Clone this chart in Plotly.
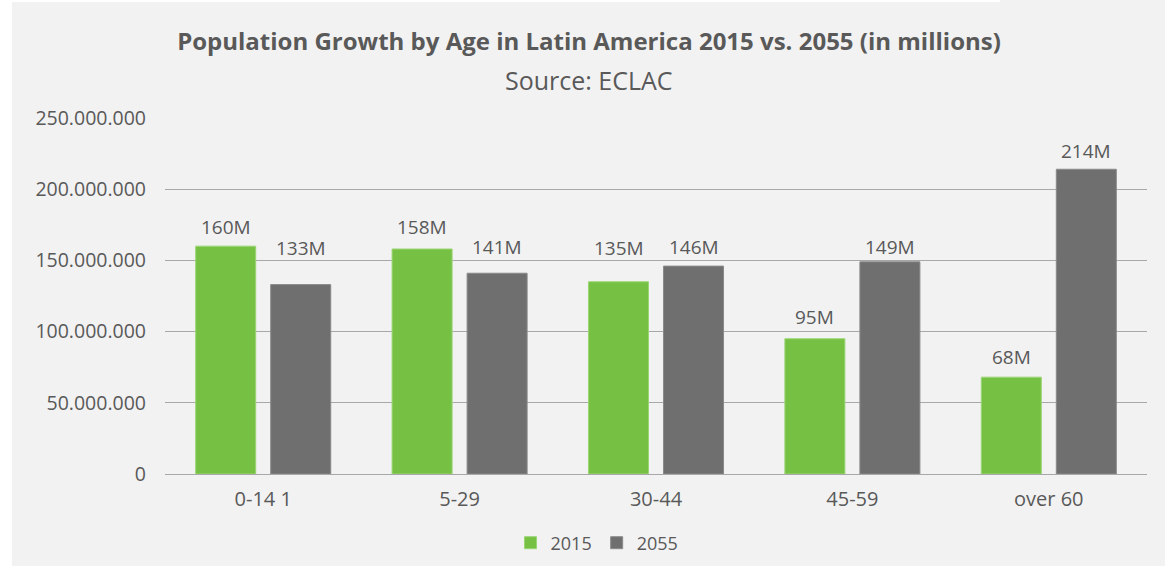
import plotly.graph_objects as go

# Population by age group, Latin America (millions)
categories = ["0-14 1", "5-29", "30-44", "45-59", "over 60"]
pop_2015 = [160, 158, 135, 95, 68]
pop_2055 = [133, 141, 146, 149, 214]
y_ticks = [0, 50_000_000, 100_000_000, 150_000_000, 200_000_000, 250_000_000]
y_tick_labels = ["0", "50.000.000", "100.000.000", "150.000.000", "200.000.000", "250.000.000"]

# vertical lift (px) of each value label above its bar, so labels clear the gridlines
lift_2015 = [19, 22, 34, 22, 20]
lift_2055 = [37, 26, 19, 14.5, 18.5]

FONT = "Open Sans, Lato, sans-serif"
TEXT = "#595959"
GREEN = "#76c043"
GRAY = "#6f6f6f"

W, H = 1165, 566
L, R, T, B = 165, 18, 118, 92
PW, PH = W - L - R, H - T - B
BAR_OFFSET = 37.5  # px from category centre to each bar centre


def series(name, values, color, edge):
    return go.Bar(
        name=name,
        x=categories,
        y=[v * 1_000_000 for v in values],
        marker=dict(color=color, line=dict(color=edge, width=1)),
        hoverinfo="skip",
    )


def value_labels(values, lifts, xshift):
    return [
        dict(
            x=cat, y=v * 1_000_000, xref="x", yref="y",
            text=f"{v}M", showarrow=False,
            xanchor="center", yanchor="middle",
            xshift=xshift, yshift=lift,
            font=dict(family=FONT, size=19, color=TEXT),
        )
        for cat, v, lift in zip(categories, values, lifts)
    ]


fig = go.Figure([
    series("2015", pop_2015, GREEN, "#9bd675"),
    series("2055", pop_2055, GRAY, "#8a8a8a"),
])

annotations = [dict(
    text="Source: ECLAC",
    xref="paper", yref="paper",
    x=(589 - L) / PW, y=(H - B - 80) / PH,
    xanchor="center", yanchor="middle",
    showarrow=False,
    font=dict(family=FONT, size=25, color=TEXT),
)]
annotations += value_labels(pop_2015, lift_2015, -BAR_OFFSET)
annotations += value_labels(pop_2055, lift_2055, BAR_OFFSET)

fig.update_layout(
    width=W,
    height=H,
    margin=dict(l=L, r=R, t=T, b=B, autoexpand=False),
    paper_bgcolor="#f2f2f2",
    plot_bgcolor="#f2f2f2",
    barmode="group",
    bargap=0.236,
    bargroupgap=0.2,
    font=dict(family=FONT, color=TEXT),
    title=dict(
        text="<b>Population Growth by Age in Latin America 2015 vs. 2055 (in millions)</b>",
        x=589 / W, xref="container", xanchor="center",
        y=1 - 42 / H, yref="container", yanchor="middle",
        font=dict(family=FONT, size=24, color=TEXT),
    ),
    annotations=annotations,
    shapes=[
        # white strips around the chart panel
        dict(type="rect", xref="paper", yref="paper", layer="below",
             x0=-L / PW, x1=(12 - L) / PW, y0=-B / PH, y1=(H - B) / PH,
             fillcolor="white", line=dict(width=0)),
        dict(type="rect", xref="paper", yref="paper", layer="below",
             x0=-L / PW, x1=(1000 - L) / PW, y0=(H - B - 2) / PH, y1=(H - B) / PH,
             fillcolor="white", line=dict(width=0)),
    ],
    legend=dict(
        orientation="h",
        x=597 / W, xref="container", xanchor="center",
        y=(H - 543) / H, yref="container", yanchor="middle",
        font=dict(family=FONT, size=18, color=TEXT),
        bgcolor="rgba(0,0,0,0)",
        itemwidth=30,
    ),
    showlegend=True,
)

fig.update_yaxes(
    range=[0, 250_000_000],
    tickvals=y_ticks,
    ticktext=y_tick_labels,
    tickfont=dict(family=FONT, size=19.5, color=TEXT),
    showgrid=True,
    gridcolor="#a8a8a8",
    gridwidth=1,
    zeroline=True,
    zerolinecolor="#a8a8a8",
    zerolinewidth=1,
    ticks="",
    ticklabelstandoff=18,
    showline=False,
    automargin=False,
)
fig.update_xaxes(
    tickfont=dict(family=FONT, size=20, color=TEXT),
    ticks="",
    showline=False,
    ticklabelstandoff=11,
    automargin=False,
)

fig.write_html("out.html")
